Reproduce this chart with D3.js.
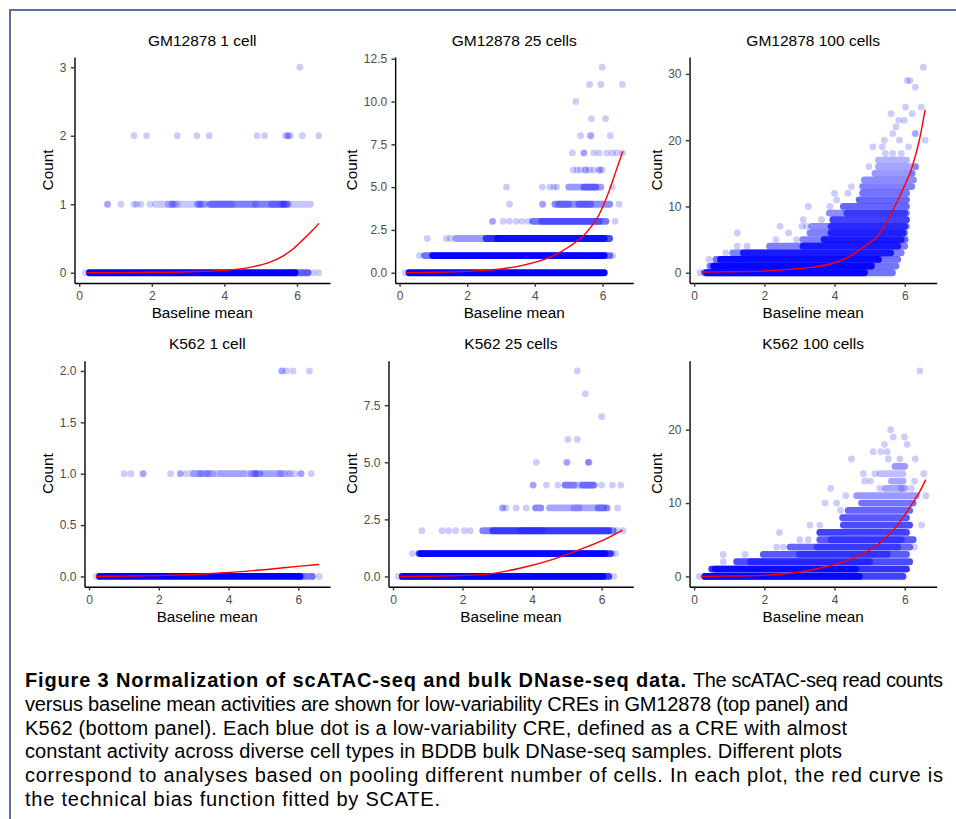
<!DOCTYPE html>
<html>
<head>
<meta charset="utf-8">
<script src="https://cdn.jsdelivr.net/npm/d3@7"></script>
<style>
  body { margin: 0; background: #fff; }
  svg { display: block; }
  text { font-family: "Liberation Sans", Arial, sans-serif; }
</style>
</head>
<body>
<svg id="fig" width="956" height="819"></svg>
<script>
// ---- data ----
// baseline mean range of the low-variability CREs (same CREs in every panel)
const X_RANGE = [0.19, 6.59];
const X_TICKS = [0, 2, 4, 6];

const TITLES = ['GM12878 1 cell', 'GM12878 25 cells', 'GM12878 100 cells',
                'K562 1 cell', 'K562 25 cells', 'K562 100 cells'];
const Y_TICKS = [[0, 1, 2, 3], [0, 2.5, 5, 7.5, 10, 12.5], [0, 10, 20, 30],
                 [0, 0.5, 1, 1.5, 2], [0, 2.5, 5, 7.5], [0, 10, 20]];
const Y_FORMATS = ['d', '.1f', 'd', '.1f', '.1f', 'd'];

// single dots: [baseline mean, count]
const gm1Points = [[6.08,3],
  [1.51,2],[1.86,2],[2.70,2],[3.24,2],[3.58,2],[4.90,2],[5.11,2],[5.68,2],[5.74,2],[5.76,2],[5.82,2],[6.15,2],[6.60,2],
  [0.77,1],[0.79,1],[1.15,1],[1.51,1],[1.58,1],[1.70,1],[1.95,1],[2.55,1],[2.6,1],[3.3,1],[3.35,1],[4.85,1],[5.6,1],[5.65,1],
  [0.17,0],[6.15,0],[6.3,0],[6.45,0],[6.6,0]];
// dense runs of overlapping dots: [count, from, to, opacity]
const gm1Bands = [[1,2.1,6.37,0.22],[1,2.45,2.7,0.2],[1,3.25,3.45,0.25],[1,3.6,5.75,0.35],
  [1,3.65,4.2,0.2],[1,5.3,5.7,0.25],
  [0,5.95,6.3,0.55],[0,0.28,5.95,1]];
// fitted technical bias curve: [baseline mean, count]
const gm1Curve = [[0.2,0],[1,0.002],[2,0.006],[3,0.015],[4,0.035],[4.8,0.09],[5.2,0.145],[5.6,0.24],
  [5.9,0.35],[6.2,0.5],[6.45,0.63],[6.6,0.72]];

const gm25Points = [[5.99,12],[5.62,11],[5.95,11],[6.59,11],[5.21,10],[5.67,9],[6.09,9],
  [5.35,8],[5.64,8],[5.66,8],[6.23,8],
  [5.11,7],[5.44,7],[5.46,7],[5.74,7],[5.90,7],[6.13,7],[6.29,7],[6.43,7],[6.59,7],
  [5.13,6],[5.25,6],[5.35,6],[5.49,6],[5.51,6],[5.62,6],[5.74,6],[5.90,6],[5.92,6],[5.99,6],
  [3.16,5],[4.22,5],[4.44,5],[4.56,5],[4.65,5],[6.29,5],
  [3.25,4],[4.22,4],[4.24,4],[6.49,4],
  [2.74,3],[2.76,3],[3.06,3],[3.25,3],[3.45,3],[3.62,3],[3.80,3],[6.37,3],
  [0.82,2],[1.38,2],[1.50,2],[0.59,1],[6.3,1],[0.17,0],[6.05,0]];
const gm25Bands = [[5,5.0,5.95,0.4],[5,5.45,5.8,0.4],
  [4,4.59,6.21,0.45],[4,4.7,5.0,0.3],[4,5.3,5.65,0.35],
  [3,3.94,6.1,0.55],[3,4.2,5.9,0.35],
  [2,1.67,2.9,0.4],[2,2.56,6.21,0.7],[2,2.9,6.05,0.8],
  [1,0.74,6.21,0.55],[1,0.98,6.05,0.95],
  [0,0.28,6.05,1]];
const gm25Curve = [[0.2,0],[1,0.03],[1.6,0.05],[2.6,0.15],[3.5,0.37],[4.5,0.95],[5.0,1.5],[5.5,2.3],
  [5.9,3.4],[6.2,4.8],[6.4,5.95],[6.6,7.1]];

const gm100Points = [[6.53,31],[6.07,29],[6.15,29],[6.30,28],[6.02,25],[6.47,25],[5.61,24],[6.21,24],
  [5.83,23],[5.99,23],[5.75,22],[5.66,21],[6.29,21],[6.31,21],[5.42,20],[5.85,20],[6.58,20],
  [5.09,19],[5.36,19],[6.11,19],[5.45,18],[5.66,18],[5.90,18],[4.98,16],[6.32,16],[6.23,15],
  [4.48,13],[4.0,12],[4.38,12],[4.06,11],[3.25,10],[3.87,10],[3.11,8],[3.63,8],
  [3.07,7],[3.2,7],[2.45,7],[1.23,6],[2.69,6],[2.33,5],[2.92,5],[6.04,5],[1.23,4],[1.51,4],
  [0.9,3],[0.42,2],[0.17,0]];
const gm100Bands = [[17,5.25,6.05,0.3],[16,5.25,6.3,0.35],[15,5.15,6.2,0.4],[14,4.85,6.25,0.45],
  [13,4.8,6.2,0.5],[12,4.8,6.05,0.55],[11,4.7,6.05,0.6],[10,4.25,6.05,0.6],
  [9,3.85,6.05,0.45],[9,4.35,6.0,0.6],[8,3.95,6.05,0.75],
  [7,3.35,6.05,0.45],[7,3.9,6.0,0.7],[6,3.3,6.0,0.5],[6,3.9,5.95,0.75],
  [5,3.1,6.0,0.5],[5,3.7,5.9,0.8],[4,2.15,6.0,0.5],[4,3.1,5.8,0.8],
  [3,1.1,5.9,0.5],[3,1.4,5.6,0.8],
  [2,0.62,5.8,0.55],[2,0.75,5.25,0.9],[1,0.45,5.75,0.55],[1,0.55,5.05,0.95],
  [0,0.3,5.65,0.55],[0,0.35,4.85,0.95]];
const gm100Curve = [[0.2,0.1],[1,0.15],[2,0.25],[2.9,0.6],[3.4,0.85],[3.9,1.35],[4.35,2.25],[4.8,3.75],
  [5.3,6.0],[5.65,9.3],[5.95,12.6],[6.2,15.8],[6.42,20.1],[6.58,24.6]];

const k1Points = [[5.52,2],[5.54,2],[5.66,2],[5.85,2],[6.32,2],
  [1.01,1],[1.20,1],[1.54,1],[1.56,1],[2.34,1],[2.61,1],[2.63,1],[3.2,1],[3.4,1],[4.75,1],[4.8,1],[5.49,1],
  [5.76,1],[6.07,1],[6.09,1],[6.37,1],
  [0.21,0],[6.2,0],[6.4,0],[6.6,0]];
const k1Bands = [[1,2.8,5.9,0.2],[1,3.0,3.55,0.25],[1,3.75,4.45,0.2],[1,4.65,4.9,0.3],[1,5.0,5.6,0.2],
  [0,6.0,6.4,0.45],[0,0.3,6.05,1]];
const k1Curve = [[0.2,0],[1,0.003],[2.2,0.01],[3.4,0.026],[4.15,0.042],[5.1,0.068],[6.05,0.1],[6.6,0.116]];

const k25Points = [[5.30,9],[5.53,8],[6.0,7],[5.03,6],[5.30,6],[4.12,5],[4.99,5],[5.01,5],[5.61,5],[5.62,5],[5.64,5],
  [4.02,4],[4.04,4],[4.41,4],[4.74,4],[6.0,4],[6.31,4],[6.55,4],
  [3.14,3],[3.16,3],[3.25,3],[3.54,3],[3.83,3],[6.17,3],[6.46,3],
  [0.83,2],[1.41,2],[1.6,2],[1.8,2],[2.05,2],[2.22,2],[6.45,2],[6.62,2],
  [0.56,1],[6.3,1],[6.4,1],[0.15,0],[6.2,0],[6.35,0]];
const k25Bands = [[4,4.95,5.8,0.3],[4,4.95,5.2,0.3],[4,5.45,5.75,0.4],
  [3,4.1,4.25,0.45],[3,4.5,6.14,0.35],[3,5.2,5.35,0.2],[3,5.9,6.05,0.35],
  [2,2.58,6.33,0.5],[2,2.87,6.2,0.55],[2,3.7,4.3,0.2],
  [1,0.75,6.25,0.75],[1,0.8,6.1,0.85],[0,0.27,6.2,0.7],[0,0.27,6.04,0.95]];
const k25Curve = [[0.17,0],[1.7,0.03],[2.7,0.1],[3.65,0.36],[4.6,0.75],[5.55,1.28],[6.15,1.67],[6.6,2.03]];

const k100Points = [[6.43,28],[5.6,20],[5.67,19],[5.99,19],[5.42,18],[6.07,18],[5.1,17],[5.32,17],[5.5,17],
  [4.48,16],[5.53,16],[5.86,16],[6.3,16],[4.82,14],[5.15,14],[6.54,14],[4.86,13],[5.02,13],[6.28,13],
  [3.89,12],[5.29,12],[5.9,12],[6.19,12],[4.32,11],[6.6,11],[3.73,10],[4.06,10],[4.17,9],
  [3.3,7],[3.58,7],[6.48,7],[2.43,6],[3.01,5],[3.25,5],[2.35,4],[2.54,4],[6.28,4],
  [0.83,3],[1.45,3],[0.83,2],[0.15,0]];
const k100Bands = [[15,5.72,6.0,0.4],[14,5.3,5.95,0.25],[13,5.62,5.95,0.35],[12,5.45,6.0,0.35],
  [11,4.63,6.33,0.4],[10,4.77,6.24,0.55],[9,4.39,6.14,0.6],[8,4.23,6.05,0.65],
  [7,4.25,6.14,0.7],[6,3.58,6.05,0.75],[5,3.58,6.24,0.65],[5,3.9,5.9,0.4],
  [4,2.73,6.14,0.6],[4,3.5,5.8,0.45],[3,1.97,6.05,0.65],[3,3.0,5.5,0.45],
  [2,1.21,6.14,0.7],[2,1.6,5.0,0.5],[1,0.5,6.05,0.8],[1,0.6,4.6,0.8],
  [0,0.31,5.95,0.75],[0,0.31,4.7,0.9]];
const k100Curve = [[0.19,0],[1,0.05],[1.97,0.14],[2.92,0.54],[3.87,1.45],[4.63,2.71],[5.29,4.52],
  [5.76,6.79],[6.14,9.4],[6.43,11.6],[6.6,13.2]];

const PANEL_POINTS = [gm1Points, gm25Points, gm100Points, k1Points, k25Points, k100Points];
const PANEL_BANDS = [gm1Bands, gm25Bands, gm100Bands, k1Bands, k25Bands, k100Bands];
const PANEL_CURVES = [gm1Curve, gm25Curve, gm100Curve, k1Curve, k25Curve, k100Curve];

const CAPTION_BOLD = 'Figure 3 Normalization of scATAC-seq and bulk DNase-seq data.';
const CAPTION_LINES = [
  'The scATAC-seq read counts',
  'versus baseline mean activities are shown for low-variability CREs in GM12878 (top panel) and',
  'K562 (bottom panel). Each blue dot is a low-variability CRE, defined as a CRE with almost',
  'constant activity across diverse cell types in BDDB bulk DNase-seq samples. Different plots',
  'correspond to analyses based on pooling different number of cells. In each plot, the red curve is',
  'the technical bias function fitted by SCATE.'
];

// ---- layout ----
const W = 956, H = 819;
const COUNT_X = [53.3, 357.3, 661.7];   // baseline of rotated y title per column
const PLOT_RIGHT = [330, 633.3, 936.7];
const PLOT_TOP = [57, 360.7];
const PLOT_H = 226;
const R = 3.4;
const TICK_FONT = 12, TITLE_FONT = 15.5, AXIS_TITLE_FONT = 15.3;

const svg = d3.select('#fig');
svg.append('rect').attr('width', W).attr('height', H).attr('fill', '#fff');

// expand a range by 5% each side, like ggplot
function expand(ext) {
  const pad = (ext[1] - ext[0]) * 0.05;
  return [ext[0] - pad, ext[1] + pad];
}

function textWidth(str, size) {
  const t = svg.append('text').style('font-size', size + 'px').text(str);
  const w = t.node().getComputedTextLength();
  t.remove();
  return w;
}

TITLES.forEach((title, i) => {
  const col = i % 3, row = Math.floor(i / 3);
  const fmt = d3.format(Y_FORMATS[i]);
  const labelW = d3.max(Y_TICKS[i], v => textWidth(fmt(v), TICK_FONT));
  const left = COUNT_X[col] + 6.5 + labelW + 8;
  const right = PLOT_RIGHT[col];
  const top = PLOT_TOP[row], bottom = top + PLOT_H;

  const points = PANEL_POINTS[i], bands = PANEL_BANDS[i], curve = PANEL_CURVES[i];
  const yMax = d3.max([d3.max(points, d => d[1]), d3.max(bands, d => d[0])]);

  const x = d3.scaleLinear().domain(expand(X_RANGE)).range([left, right]);
  const y = d3.scaleLinear().domain(expand([0, yMax])).range([bottom, top]);

  const g = svg.append('g');

  // dense runs of overlapping dots
  g.selectAll('line.band').data(bands).enter().append('line')
    .attr('class', 'band')
    .attr('x1', d => x(d[1])).attr('x2', d => x(d[2]))
    .attr('y1', d => y(d[0])).attr('y2', d => y(d[0]))
    .attr('stroke', '#0000ff')
    .attr('stroke-opacity', d => d[3])
    .attr('stroke-width', R * 2)
    .attr('stroke-linecap', 'round');

  g.selectAll('circle').data(points).enter().append('circle')
    .attr('cx', d => x(d[0])).attr('cy', d => y(d[1]))
    .attr('r', R)
    .attr('fill', '#0000ff')
    .attr('fill-opacity', 0.2);

  const line = d3.line().x(d => x(d[0])).y(d => y(d[1])).curve(d3.curveMonotoneX);
  g.append('path').datum(curve)
    .attr('d', line)
    .attr('fill', 'none')
    .attr('stroke', '#ff0000')
    .attr('stroke-width', 1.4);

  // axes
  const yAxis = g.append('g').attr('transform', `translate(${left},0)`)
    .call(d3.axisLeft(y).tickValues(Y_TICKS[i]).tickFormat(fmt).tickSize(3.7).tickSizeOuter(0).tickPadding(4.3));
  const xAxis = g.append('g').attr('transform', `translate(0,${bottom})`)
    .call(d3.axisBottom(x).tickValues(X_TICKS).tickFormat(d3.format('d')).tickSize(3.7).tickSizeOuter(0).tickPadding(4.8));

  [yAxis, xAxis].forEach(ax => {
    ax.select('.domain').attr('stroke', '#000').attr('stroke-width', 1.4);
    ax.selectAll('.tick line').attr('stroke', '#333').attr('stroke-width', 1.4);
    ax.selectAll('.tick text').attr('fill', '#4d4d4d')
      .style('font-size', TICK_FONT + 'px')
      .style('font-family', '"Liberation Sans", Arial, sans-serif');
  });

  // titles
  g.append('text')
    .attr('x', (left + right) / 2).attr('y', top - 11.5)
    .attr('text-anchor', 'middle')
    .style('font-size', TITLE_FONT + 'px')
    .text(title);

  g.append('text')
    .attr('x', (left + right) / 2).attr('y', bottom + 35)
    .attr('text-anchor', 'middle')
    .style('font-size', AXIS_TITLE_FONT + 'px')
    .text('Baseline mean');

  g.append('text')
    .attr('transform', `translate(${COUNT_X[col]},${(top + bottom) / 2}) rotate(-90)`)
    .attr('text-anchor', 'middle')
    .style('font-size', AXIS_TITLE_FONT + 'px')
    .text('Count');
});

// ---- caption ----
const CAP_X = 25, CAP_Y = 687, CAP_DY = 23.8, CAP_FONT = 20;
const CAP_ENDS = [943, 848, 847, 842, 943, 440];
const BOLD_END = 686, FIRST_START = 693;

svg.append('text')
  .attr('x', CAP_X).attr('y', CAP_Y)
  .attr('textLength', BOLD_END - CAP_X).attr('lengthAdjust', 'spacing')
  .style('font-size', CAP_FONT + 'px').style('font-weight', 'bold')
  .text(CAPTION_BOLD);

CAPTION_LINES.forEach((str, i) => {
  const x0 = i === 0 ? FIRST_START : CAP_X;
  svg.append('text')
    .attr('x', x0).attr('y', CAP_Y + i * CAP_DY)
    .attr('textLength', CAP_ENDS[i] - x0).attr('lengthAdjust', 'spacing')
    .style('font-size', CAP_FONT + 'px')
    .text(str);
});

// frame on top and left edges
svg.append('path')
  .attr('d', `M10,${H}V10H${W}`)
  .attr('fill', 'none')
  .attr('stroke', '#5a7098')
  .attr('stroke-width', 2);
</script>
</body>
</html>
